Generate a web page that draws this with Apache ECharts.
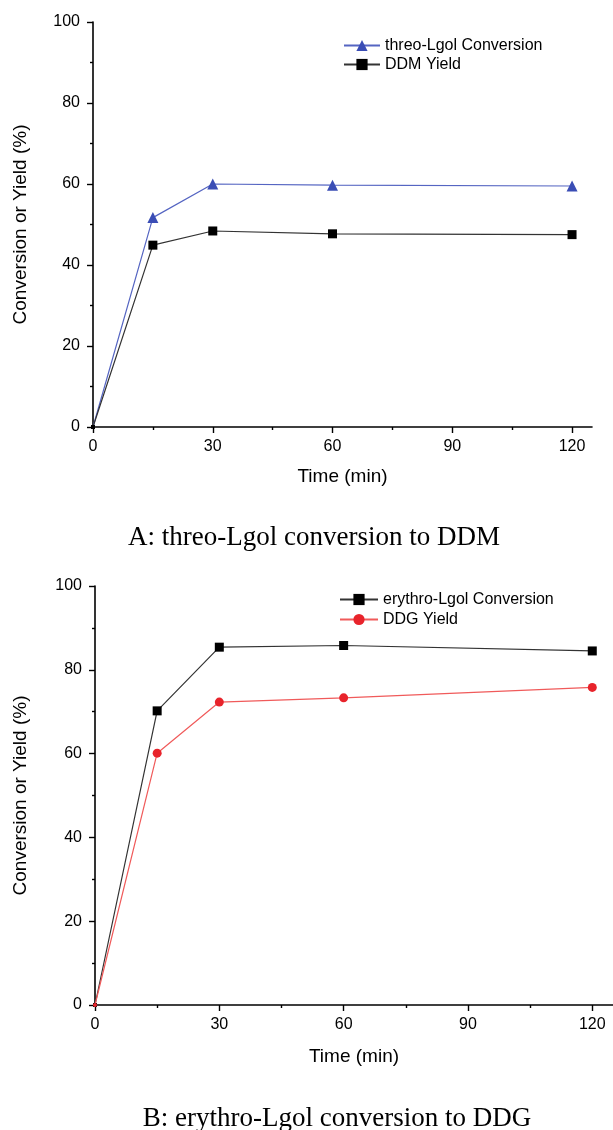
<!DOCTYPE html>
<html>
<head>
<meta charset="utf-8">
<title>Lgol conversion</title>
<script src="https://cdn.jsdelivr.net/npm/echarts@6/dist/echarts.min.js"></script>
<style>
  html, body { margin: 0; padding: 0; background: #fff; }
  #chart { width: 613px; height: 1130px; }
</style>
</head>
<body>
<div id="chart"></div>
<script>
// Reaction time points (min)
const timeMin = [0, 15, 30, 60, 120];

// Panel A: threo-Lgol
const threoConversion = [0, 51.7, 60.0, 59.7, 59.5];
const ddmYield = [0, 44.9, 48.4, 47.7, 47.5];

// Panel B: erythro-Lgol
const erythroConversion = [0, 70.2, 85.4, 85.8, 84.5];
const ddgYield = [0, 60.1, 72.3, 73.3, 75.8];

// Axis ticks
const xMajorTicks = [0, 30, 60, 90, 120];
const xMinorTicks = [15, 45, 75, 105];

const SANS = '"Liberation Sans", Arial, sans-serif';
const SERIF = '"Liberation Serif", "Times New Roman", serif';

const pairs = (ys) => timeMin.map((t, i) => [t, ys[i]]);
const markSize = (base) => (v, p) => (p.dataIndex === 0 ? 4 : base);

function xAxes(gridIndex, nameGap) {
  return [
    {
      type: 'value', gridIndex, min: 0, max: 125, position: 'bottom',
      name: 'Time (min)', nameLocation: 'middle', nameGap,
      nameTextStyle: { fontFamily: SANS, fontSize: 19, color: '#000' },
      axisLine: { show: true, onZero: false, lineStyle: { color: '#000', width: 1.6 } },
      axisTick: { show: true, inside: false, length: 6, customValues: xMajorTicks,
                  lineStyle: { color: '#000', width: 1.4 } },
      axisLabel: { show: true, margin: 12, customValues: xMajorTicks,
                   fontFamily: SANS, fontSize: 16, color: '#000' },
      splitLine: { show: false }
    },
    {
      // minor ticks sharing the bottom axis line
      type: 'value', gridIndex, min: 0, max: 125, position: 'bottom',
      axisLine: { show: false, onZero: false },
      axisTick: { show: true, inside: false, length: 3, customValues: xMinorTicks,
                  lineStyle: { color: '#000', width: 1.4 } },
      axisLabel: { show: false },
      splitLine: { show: false }
    }
  ];
}

function yAxis(gridIndex, nameGap) {
  return {
    type: 'value', gridIndex, min: 0, max: 100, interval: 20,
    name: 'Conversion or Yield (%)', nameLocation: 'middle', nameGap,
    nameTextStyle: { fontFamily: SANS, fontSize: 19, color: '#000' },
    axisLine: { show: true, onZero: false, lineStyle: { color: '#000', width: 1.6 } },
    axisTick: { show: true, inside: false, length: 6, lineStyle: { color: '#000', width: 1.4 } },
    minorTick: { show: true, splitNumber: 2, length: 3, lineStyle: { color: '#000', width: 1.4 } },
    axisLabel: { margin: 13, fontFamily: SANS, fontSize: 16, color: '#000' },
    splitLine: { show: false },
    minorSplitLine: { show: false }
  };
}

function lineSeries(name, ys, xIdx, yIdx, symbol, size, markColor, lineColor) {
  return {
    name, type: 'line', xAxisIndex: xIdx, yAxisIndex: yIdx,
    data: pairs(ys),
    symbol, symbolSize: markSize(size), showAllSymbol: true,
    clip: false,
    itemStyle: { color: markColor },
    lineStyle: { color: lineColor, width: 1.2 },
    emphasis: { disabled: true },
    z: 2
  };
}

const legendText = { fontFamily: SANS, fontSize: 16, color: '#000', lineHeight: 17 };

const chart = echarts.init(document.getElementById('chart'), null, { renderer: 'canvas' });

chart.setOption({
  animation: false,
  backgroundColor: '#fff',
  grid: [
    { left: 93, top: 22, width: 499, height: 405 },
    { left: 95, top: 586, width: 518, height: 419 }
  ],
  xAxis: [...xAxes(0, 40), ...xAxes(1, 42)],
  yAxis: [yAxis(0, 63), yAxis(1, 65)],
  legend: [
    {
      orient: 'vertical', left: 338, top: 32,
      itemWidth: 36, itemHeight: 14, itemGap: 2,
      textStyle: legendText,
      data: ['threo-Lgol Conversion', 'DDM Yield']
    },
    {
      orient: 'vertical', left: 334, top: 586,
      itemWidth: 38, itemHeight: 14, itemGap: 3,
      textStyle: legendText,
      data: ['erythro-Lgol Conversion', 'DDG Yield']
    }
  ],
  graphic: [
    { type: 'text', x: 314, y: 538,
      style: { text: 'A: threo-Lgol conversion to DDM', font: '27px ' + SERIF,
               fill: '#000', align: 'center', verticalAlign: 'middle' } },
    { type: 'text', x: 337, y: 1119,
      style: { text: 'B: erythro-Lgol conversion to DDG', font: '27px ' + SERIF,
               fill: '#000', align: 'center', verticalAlign: 'middle' } }
  ],
  series: [
    lineSeries('threo-Lgol Conversion', threoConversion, 0, 0, 'triangle', 11, '#3a4db5', '#5565c2'),
    lineSeries('DDM Yield', ddmYield, 0, 0, 'rect', 9, '#000', '#333'),
    lineSeries('erythro-Lgol Conversion', erythroConversion, 2, 1, 'rect', 9, '#000', '#333'),
    lineSeries('DDG Yield', ddgYield, 2, 1, 'circle', 9, '#e8232b', '#f05a5a')
  ]
});
</script>
</body>
</html>
